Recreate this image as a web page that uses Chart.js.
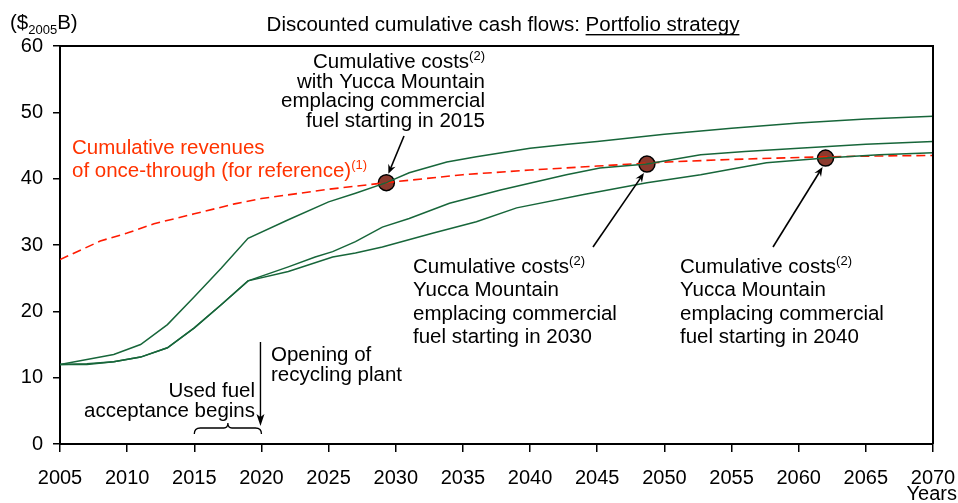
<!DOCTYPE html>
<html lang="en">
<head>
  <meta charset="UTF-8">
  <title>Discounted cumulative cash flows</title>
  <style>
    html, body { margin: 0; padding: 0; background: #fff; }
    #wrap { width: 958px; height: 503px; position: relative; }
  </style>
</head>
<body>
  <div id="wrap"><canvas id="grafico"></canvas></div>

<script src="https://cdn.jsdelivr.net/npm/chart.js"></script>
<script>
  // anos e valores ($2005 B)
  const anosY2015 = [2005, 2009, 2011, 2013, 2015, 2017, 2019, 2022, 2025, 2027, 2029.3, 2031, 2033.8, 2036, 2040, 2042.8, 2045, 2050, 2055, 2060, 2065, 2070];
  const custosY2015 = [12, 13.5, 15, 18, 22.2, 26.5, 31, 33.8, 36.5, 37.8, 39.4, 40.9, 42.5, 43.3, 44.6, 45.2, 45.6, 46.7, 47.6, 48.4, 49.0, 49.4];

  const anosY2030 = [2005, 2007, 2009, 2011, 2013, 2015, 2017, 2019, 2022, 2024, 2025.3, 2027, 2029, 2031, 2034, 2037.8, 2042.7, 2045.2, 2048.7, 2052.7, 2056, 2060, 2065, 2070];
  const custosY2030 = [12, 12.1, 12.4, 13.1, 14.5, 17.5, 21, 24.6, 26.7, 28.2, 29.0, 30.5, 32.7, 34.0, 36.3, 38.3, 40.6, 41.6, 42.2, 43.6, 44.1, 44.6, 45.2, 45.6];

  const anosY2040 = [2005, 2007, 2009, 2011, 2013, 2015, 2017, 2019, 2022, 2025.3, 2027, 2029, 2032.8, 2036, 2039, 2044, 2048.7, 2052.7, 2057.6, 2062, 2066, 2070];
  const custosY2040 = [12, 12, 12.4, 13.1, 14.5, 17.5, 21, 24.6, 26, 28.2, 28.8, 29.7, 31.8, 33.5, 35.6, 37.6, 39.4, 40.6, 42.4, 43.1, 43.6, 43.9];

  const anosReceita = [2005, 2008, 2010, 2012, 2015, 2018, 2020, 2025, 2029.3, 2035, 2040, 2045, 2050, 2055, 2060, 2065, 2070];
  const receitas = [27.8, 30.6, 31.8, 33.2, 34.7, 36.2, 37.0, 38.4, 39.4, 40.6, 41.3, 41.9, 42.5, 42.9, 43.2, 43.4, 43.5];

  const anosMarcadores = [2029.3, 2048.7, 2062];
  const valoresMarcadores = [39.4, 42.2, 43.1];

  const ticksX = [2005, 2010, 2015, 2020, 2025, 2030, 2035, 2040, 2045, 2050, 2055, 2060, 2065, 2070];
  const ticksY = [0, 10, 20, 30, 40, 50, 60];

  const FONTE = "'Liberation Sans', Arial, sans-serif";
  const VERDE = '#17663a';
  const T = 20.5;

  function pontos(xs, ys) {
    return xs.map((x, i) => ({ x: x, y: ys[i] }));
  }

  // desenha uma linha com partes normais e sobrescritas/subscritas
  function textoPartes(ctx, partes, x, y, alinhamento, tamanho, cor) {
    ctx.save();
    ctx.fillStyle = cor;
    ctx.textBaseline = 'alphabetic';
    ctx.textAlign = 'left';
    const fonte = p => (p.sup || p.sub ? Math.round(tamanho * 0.65) : tamanho) + 'px ' + FONTE;
    let total = 0;
    partes.forEach(p => {
      ctx.font = fonte(p);
      p.w = ctx.measureText(p.t).width;
      total += p.w;
    });
    let cx = x;
    if (alinhamento === 'right') cx = x - total;
    if (alinhamento === 'center') cx = x - total / 2;
    partes.forEach(p => {
      ctx.font = fonte(p);
      let dy = p.sup ? -tamanho * 0.4 : (p.sub ? tamanho * 0.25 : 0);
      ctx.fillText(p.t, cx, y + dy);
      if (p.u) {
        ctx.fillRect(cx, y + 3, p.w, 1.4);
      }
      cx += p.w;
    });
    ctx.restore();
  }

  function bloco(ctx, linhas, x, y, passo, alinhamento, tamanho, cor) {
    linhas.forEach((partes, i) => textoPartes(ctx, partes, x, y + i * passo, alinhamento, tamanho, cor));
  }

  function seta(ctx, x1, y1, x2, y2) {
    const ang = Math.atan2(y2 - y1, x2 - x1);
    const tam = 10;
    ctx.save();
    ctx.strokeStyle = '#000';
    ctx.fillStyle = '#000';
    ctx.lineWidth = 1.6;
    ctx.beginPath();
    ctx.moveTo(x1, y1);
    ctx.lineTo(x2 - Math.cos(ang) * 4, y2 - Math.sin(ang) * 4);
    ctx.stroke();
    ctx.beginPath();
    ctx.moveTo(x2, y2);
    ctx.lineTo(x2 - tam * Math.cos(ang - 0.4), y2 - tam * Math.sin(ang - 0.4));
    ctx.lineTo(x2 - tam * 0.6 * Math.cos(ang), y2 - tam * 0.6 * Math.sin(ang));
    ctx.lineTo(x2 - tam * Math.cos(ang + 0.4), y2 - tam * Math.sin(ang + 0.4));
    ctx.closePath();
    ctx.fill();
    ctx.restore();
  }

  const anotacoes = {
    id: 'anotacoes',
    afterDraw(chart) {
      const ctx = chart.ctx;
      const area = chart.chartArea;
      const sx = chart.scales.x;
      const sy = chart.scales.y;

      // moldura superior e direita
      ctx.save();
      ctx.strokeStyle = '#000';
      ctx.lineWidth = 2;
      ctx.beginPath();
      ctx.moveTo(area.left, area.top);
      ctx.lineTo(area.right, area.top);
      ctx.lineTo(area.right, area.bottom);
      ctx.stroke();
      ctx.restore();

      // título
      textoPartes(ctx, [{ t: 'Discounted cumulative cash flows: ' }, { t: 'Portfolio strategy', u: true }],
        503, 31, 'center', T, '#000');
      // unidade do eixo y
      textoPartes(ctx, [{ t: '($' }, { t: '2005', sub: true }, { t: 'B)' }], 10, 29, 'left', T, '#000');
      // rótulo do eixo x
      textoPartes(ctx, [{ t: 'Years' }], 957, 500, 'right', 20, '#000');

      // custos 2015
      bloco(ctx, [
        [{ t: 'Cumulative costs' }, { t: '(2)', sup: true }],
        [{ t: 'with Yucca Mountain' }],
        [{ t: 'emplacing commercial' }],
        [{ t: 'fuel starting in 2015' }]
      ], 485, 68, 19.7, 'right', T, '#000');

      // receitas
      bloco(ctx, [
        [{ t: 'Cumulative revenues' }],
        [{ t: 'of once-through (for reference)' }, { t: '(1)', sup: true }]
      ], 72, 154, 23, 'left', T, '#ff3300');

      // custos 2030 e 2040
      [[413, '2030'], [680, '2040']].forEach(([x, ano]) => {
        bloco(ctx, [
          [{ t: 'Cumulative costs' }, { t: '(2)', sup: true }],
          [{ t: 'Yucca Mountain' }],
          [{ t: 'emplacing commercial' }],
          [{ t: 'fuel starting in ' + ano }]
        ], x, 273, 23.3, 'left', T, '#000');
      });

      // usina de reciclagem
      bloco(ctx, [[{ t: 'Opening of' }], [{ t: 'recycling plant' }]], 271, 361, 20, 'left', T, '#000');
      bloco(ctx, [[{ t: 'Used fuel' }], [{ t: 'acceptance begins' }]], 255, 397, 20, 'right', T, '#000');

      // setas para os marcadores
      const m = anosMarcadores.map((a, i) => ({ x: sx.getPixelForValue(a), y: sy.getPixelForValue(valoresMarcadores[i]) }));
      seta(ctx, 404, 136, m[0].x + 2, m[0].y - 9);
      seta(ctx, 593, 247, m[1].x - 3, m[1].y + 9);
      seta(ctx, 773, 247, m[2].x - 3, m[2].y + 9);

      // seta vertical em 2020
      const x20 = sx.getPixelForValue(2020);
      ctx.save();
      ctx.strokeStyle = '#000';
      ctx.lineWidth = 1.4;
      ctx.beginPath();
      ctx.moveTo(x20 - 1, 342);
      ctx.lineTo(x20 - 1, 420);
      ctx.stroke();
      ctx.fillStyle = '#000';
      ctx.beginPath();
      ctx.moveTo(x20 - 1, 426);
      ctx.lineTo(x20 - 5, 414);
      ctx.lineTo(x20 - 1, 417);
      ctx.lineTo(x20 + 3, 414);
      ctx.closePath();
      ctx.fill();

      // chave 2015–2020
      const x15 = sx.getPixelForValue(2015);
      const meio = sx.getPixelForValue(2017.5);
      const yb = 432, yt = 426;
      ctx.lineWidth = 1.3;
      ctx.beginPath();
      ctx.moveTo(x15, yb + 2);
      ctx.quadraticCurveTo(x15, yt + 2, x15 + 6, yt + 2);
      ctx.lineTo(meio - 4, yt + 2);
      ctx.quadraticCurveTo(meio, yt + 2, meio, yt - 3);
      ctx.quadraticCurveTo(meio, yt + 2, meio + 4, yt + 2);
      ctx.lineTo(x20 - 6, yt + 2);
      ctx.quadraticCurveTo(x20, yt + 2, x20, yb + 2);
      ctx.stroke();
      ctx.restore();
    }
  };

  const linha = (dados, cor, extra) => Object.assign({
    data: dados,
    borderColor: cor,
    borderWidth: 1.5,
    pointRadius: 0,
    tension: 0,
    fill: false
  }, extra || {});

  new Chart(document.getElementById('grafico').getContext('2d'), {
    type: 'line',
    data: {
      datasets: [
        linha(pontos(anosY2015, custosY2015), VERDE),
        linha(pontos(anosY2030, custosY2030), VERDE),
        linha(pontos(anosY2040, custosY2040), VERDE),
        linha(pontos(anosReceita, receitas), '#ff1a00', { borderDash: [9, 5], borderWidth: 1.6 }),
        {
          data: pontos(anosMarcadores, valoresMarcadores),
          showLine: false,
          pointRadius: 8,
          pointBackgroundColor: '#8b3a2e',
          pointBorderColor: '#000',
          pointBorderWidth: 1.5
        }
      ]
    },
    options: {
      responsive: true,
      maintainAspectRatio: false,
      animation: false,
      layout: { padding: { top: 46, right: 25, left: 0, bottom: 0 } },
      plugins: {
        legend: { display: false },
        tooltip: { enabled: false }
      },
      scales: {
        x: {
          type: 'linear',
          min: 2005,
          max: 2070,
          afterFit: s => { s.height = 59; s.paddingLeft = 0; s.paddingRight = 0; },
          afterBuildTicks: s => { s.ticks = ticksX.map(v => ({ value: v })); },
          border: { color: '#000', width: 2 },
          grid: { drawOnChartArea: false, color: '#000', tickLength: 8, lineWidth: 1.5 },
          ticks: {
            color: '#000',
            font: { family: FONTE, size: 20 },
            padding: 14,
            maxRotation: 0,
            callback: v => String(v)
          }
        },
        y: {
          min: 0,
          max: 60,
          afterFit: s => { s.width = 60; s.paddingTop = 0; s.paddingBottom = 0; },
          afterBuildTicks: s => { s.ticks = ticksY.map(v => ({ value: v })); },
          border: { color: '#000', width: 2 },
          grid: { drawOnChartArea: false, color: '#000', tickLength: 7, lineWidth: 1.5 },
          ticks: {
            color: '#000',
            font: { family: FONTE, size: 20 },
            padding: 10,
            callback: v => String(v)
          }
        }
      }
    },
    plugins: [anotacoes]
  });
</script>
</body>
</html>
